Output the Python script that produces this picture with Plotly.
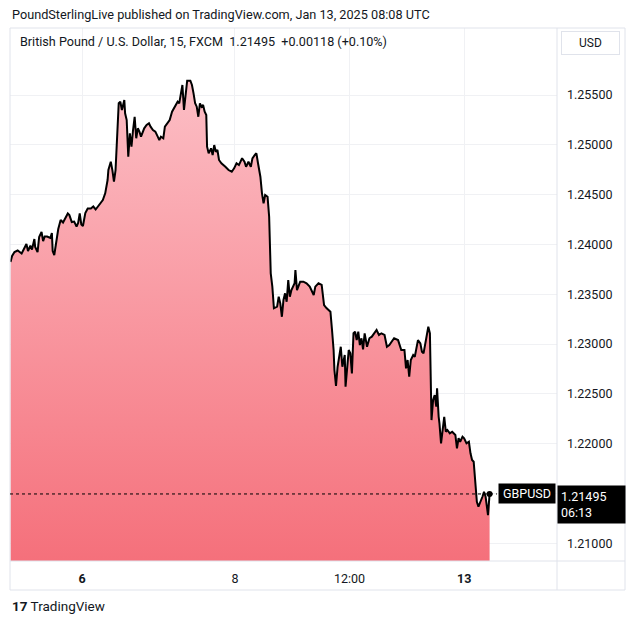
import plotly.graph_objects as go

# 15-minute bar index (0 = first bar shown) and close price, GBPUSD FXCM
bars_a = [0, 2, 5, 9, 14, 18, 20, 22, 25, 27, 30, 31, 34, 36, 39, 41, 43, 46, 50, 52,
          53, 55, 57, 60, 63, 66, 69, 72, 74, 77, 80, 83, 85, 87, 89, 91, 94, 97, 101, 104, 107, 110]
close_a = [1.23824, 1.23884, 1.23924, 1.23939, 1.23909, 1.23984, 1.24004, 1.23934, 1.23989, 1.23949,
           1.24054, 1.23974, 1.23924, 1.24075, 1.24125, 1.24034, 1.2408, 1.2408, 1.24065, 1.24115,
           1.23934, 1.23894, 1.24014, 1.24155, 1.24245, 1.2422, 1.24265, 1.24311, 1.24295, 1.24225,
           1.2423, 1.2418, 1.24215, 1.24311, 1.242, 1.24185, 1.24316, 1.24361, 1.24361, 1.24381, 1.24351, 1.24386]

bars_b = [113, 116, 119, 122, 123, 126, 128, 130, 132, 134, 136, 138, 140, 143, 144, 146, 148, 150, 152, 154,
          156, 158, 160, 162, 164, 168, 171, 174, 176, 179, 182, 185, 187, 189, 192, 194, 197, 200]
close_b = [1.24413, 1.24446, 1.24513, 1.24647, 1.24747, 1.2483, 1.24747, 1.2463, 1.24747, 1.25149,
           1.25417, 1.25433, 1.2535, 1.2545, 1.25317, 1.25249, 1.24881, 1.25116, 1.24981, 1.25149,
           1.25282, 1.25066, 1.25166, 1.25132, 1.25082, 1.25166, 1.25199, 1.25216, 1.25182, 1.25149,
           1.25132, 1.25082, 1.25048, 1.25082, 1.25066, 1.25182, 1.25216, 1.25249]

bars_c = [203, 207, 210, 212, 214, 216, 218, 220, 222, 226, 228, 230, 232, 234, 236, 238, 240, 242, 244, 246,
          247, 249, 252, 254, 256, 258, 260, 262, 265, 270, 274, 278, 281, 284, 287, 291, 294, 296, 299, 302, 304, 307]
close_c = [1.25333, 1.25383, 1.25433, 1.25417, 1.25517, 1.25601, 1.2535, 1.25533, 1.25644, 1.25644,
           1.25601, 1.25517, 1.25417, 1.25383, 1.25282, 1.25417, 1.25383, 1.254, 1.25333, 1.25299,
           1.24981, 1.24915, 1.24965, 1.24898, 1.24998, 1.24931, 1.24948, 1.24848, 1.24815, 1.2478,
           1.24747, 1.2473, 1.24764, 1.24815, 1.24797, 1.24865, 1.2483, 1.2478, 1.2483, 1.2478, 1.24865, 1.24898]

bars_d = [309, 311, 314, 316, 318, 320, 323, 325, 327, 329, 331, 335, 337, 339, 341, 343, 345, 347, 349, 351,
          353, 357, 358, 360, 364, 368, 372, 376, 381, 383, 387, 391, 394]
close_d = [1.24915, 1.24815, 1.2468, 1.24513, 1.24413, 1.24496, 1.24479, 1.24278, 1.2371, 1.23576,
           1.23359, 1.23375, 1.23475, 1.23409, 1.23274, 1.23442, 1.23509, 1.23425, 1.23643, 1.23475,
           1.23542, 1.2361, 1.23743, 1.23542, 1.23626, 1.23626, 1.2361, 1.23576, 1.23492, 1.23576,
           1.2361, 1.23593, 1.23392]

bars_e = [397, 402, 404, 406, 407, 409, 411, 413, 415, 417, 420, 421, 424, 425, 427, 429, 431, 433, 435, 437,
          439, 441, 443, 445, 448, 451, 454, 457, 460, 463, 466, 470, 473, 476, 479, 482, 487, 489, 491, 495,
          497, 499, 501, 503, 506]
close_e = [1.23362, 1.23325, 1.23141, 1.2294, 1.22739, 1.22579, 1.22772, 1.22873, 1.22973, 1.22772,
           1.2289, 1.22572, 1.22907, 1.2294, 1.22907, 1.22706, 1.23108, 1.23124, 1.2304, 1.23124,
           1.2299, 1.23058, 1.22947, 1.23108, 1.22973, 1.23058, 1.23074, 1.23108, 1.23141, 1.23091,
           1.23108, 1.23091, 1.22973, 1.2299, 1.23023, 1.23058, 1.2304, 1.2299, 1.2294, 1.2294,
           1.22756, 1.2284, 1.22672, 1.2284, 1.2289]

bars_f = [508, 510, 512, 515, 517, 519, 521, 523, 525, 527, 528, 529, 531, 533, 535, 536, 538, 539, 541, 543,
          545, 547, 549, 552, 555, 559, 561, 563, 565, 568, 570, 573, 576, 578, 580, 582, 584, 586, 588, 590,
          593, 595, 597, 600, 602]
close_f = [1.22873, 1.22973, 1.2304, 1.23007, 1.22923, 1.22907, 1.23007, 1.23108, 1.23174, 1.23108,
           1.22672, 1.22237, 1.22438, 1.22488, 1.22371, 1.22556, 1.2227, 1.22204, 1.22003, 1.2217,
           1.2227, 1.2212, 1.22137, 1.22104, 1.2212, 1.22087, 1.21953, 1.22054, 1.22019, 1.2207,
           1.22054, 1.22003, 1.22019, 1.21903, 1.21836, 1.21819, 1.21602, 1.21417, 1.21367, 1.21401,
           1.21467, 1.21517, 1.21467, 1.21283, 1.21495]

bars = bars_a + bars_b + bars_c + bars_d + bars_e + bars_f
close = close_a + close_b + close_c + close_d + close_e + close_f

x_tick_bars = [90, 282, 426, 570]
x_tick_text = ["<b>6</b>", "8", "12:00", "<b>13</b>"]
y_ticks = [1.210, 1.215, 1.220, 1.225, 1.230, 1.235, 1.240, 1.245, 1.250, 1.255]
y_hidden = [1.215]  # covered by the last-price label in the original

X_RANGE = [-0.63, 686.7]
Y_RANGE = [1.20822, 1.26173]

FONT = "Roboto, Arial, sans-serif"
TXT = "#131722"
GRID = "#f0f1f4"
FRAME = "#e0e3eb"

last = close[-1]

fig = go.Figure()
fig.add_trace(go.Scatter(
    x=bars, y=close, mode="lines",
    line=dict(color="#000000", width=2),
    fill="tozeroy",
    fillgradient=dict(type="vertical",
                      colorscale=[[0, "rgb(245,112,123)"], [1, "rgb(252,190,197)"]],
                      start=Y_RANGE[0], stop=max(close)),
    hoverinfo="skip", showlegend=False))
fig.add_trace(go.Scatter(
    x=[bars[-1]], y=[last], mode="markers",
    marker=dict(color="#000000", size=6),
    hoverinfo="skip", showlegend=False))

# page body adds an 8px offset, so the figure is 8px smaller on each side
fig.update_layout(
    width=627, height=616,
    margin=dict(l=2, r=78, t=20, b=63),
    paper_bgcolor="white", plot_bgcolor="white",
    font=dict(family=FONT, color=TXT, size=12),
    showlegend=False,
    xaxis=dict(range=X_RANGE, tickmode="array", tickvals=x_tick_bars, ticktext=x_tick_text,
               showgrid=True, gridcolor=GRID, gridwidth=1, zeroline=False, showline=False,
               ticks="", ticklabelstandoff=8, tickfont=dict(size=12.5, color=TXT), fixedrange=True),
    yaxis=dict(range=Y_RANGE, side="right", tickmode="array", tickvals=y_ticks,
               ticktext=["" if v in y_hidden else f"{v:.5f}" for v in y_ticks],
               showgrid=True, gridcolor=GRID, gridwidth=1, zeroline=False, showline=False,
               ticks="", ticklabelstandoff=9, tickfont=dict(size=12.5, color=TXT), fixedrange=True),
)

def px_x(px):
    return (px - 10) / 547.0

def px_y(py):
    return (561 - py) / 533.0

shapes = [
    dict(type="rect", xref="paper", yref="paper", x0=0, x1=px_x(625), y0=px_y(590), y1=1,
         line=dict(color=FRAME, width=1), fillcolor="rgba(0,0,0,0)", layer="above"),
    dict(type="line", xref="paper", yref="paper", x0=1, x1=1, y0=px_y(590), y1=1,
         line=dict(color=FRAME, width=1), layer="above"),
    dict(type="line", xref="paper", yref="paper", x0=0, x1=px_x(625), y0=0, y1=0,
         line=dict(color=FRAME, width=1), layer="above"),
    dict(type="line", xref="paper", yref="y", x0=0, x1=px_x(497), y0=last, y1=last,
         line=dict(color="#000000", width=1, dash="dot"), layer="above"),
]
fig.update_layout(shapes=shapes)

ann = [
    dict(text="PoundSterlingLive published on TradingView.com, Jan 13, 2025 08:08 UTC",
         xref="paper", yref="paper", x=0, y=px_y(15), xanchor="left", yanchor="middle",
         showarrow=False, font=dict(size=12.7, color=TXT)),
    dict(text="British Pound / U.S. Dollar, 15, FXCM\u00a0\u00a0" + f"{last:.5f}" + "\u00a0\u00a0+0.00118 (+0.10%)",
         xref="paper", yref="paper", x=px_x(18), y=px_y(42), xanchor="left", yanchor="middle",
         showarrow=False, font=dict(size=12.6, color=TXT)),
    dict(text="USD", xref="paper", yref="paper", x=px_x(590.5), y=px_y(43),
         xanchor="center", yanchor="middle", showarrow=False,
         width=49, height=14, borderpad=4, bordercolor=FRAME, borderwidth=1, bgcolor="white",
         font=dict(size=12, color=TXT)),
    dict(text="GBPUSD", xref="paper", yref="y", x=px_x(498), y=last, xanchor="left", yanchor="middle",
         showarrow=False, bgcolor="#000000", borderpad=2, width=52,
         font=dict(size=12.5, color="white")),
    dict(text=f"{last:.5f}<br>06:13", xref="paper", yref="y", x=px_x(557), y=last,
         xanchor="left", yanchor="top", yshift=9, align="left", width=61, showarrow=False,
         bgcolor="#000000", borderpad=3, font=dict(size=12.5, color="white")),
    dict(text="<b>17</b> TradingView", xref="paper", yref="paper", x=0, y=px_y(606),
         xanchor="left", yanchor="middle", showarrow=False, font=dict(size=13.5, color=TXT)),
]
fig.update_layout(annotations=ann)

fig.write_html("out.html")
